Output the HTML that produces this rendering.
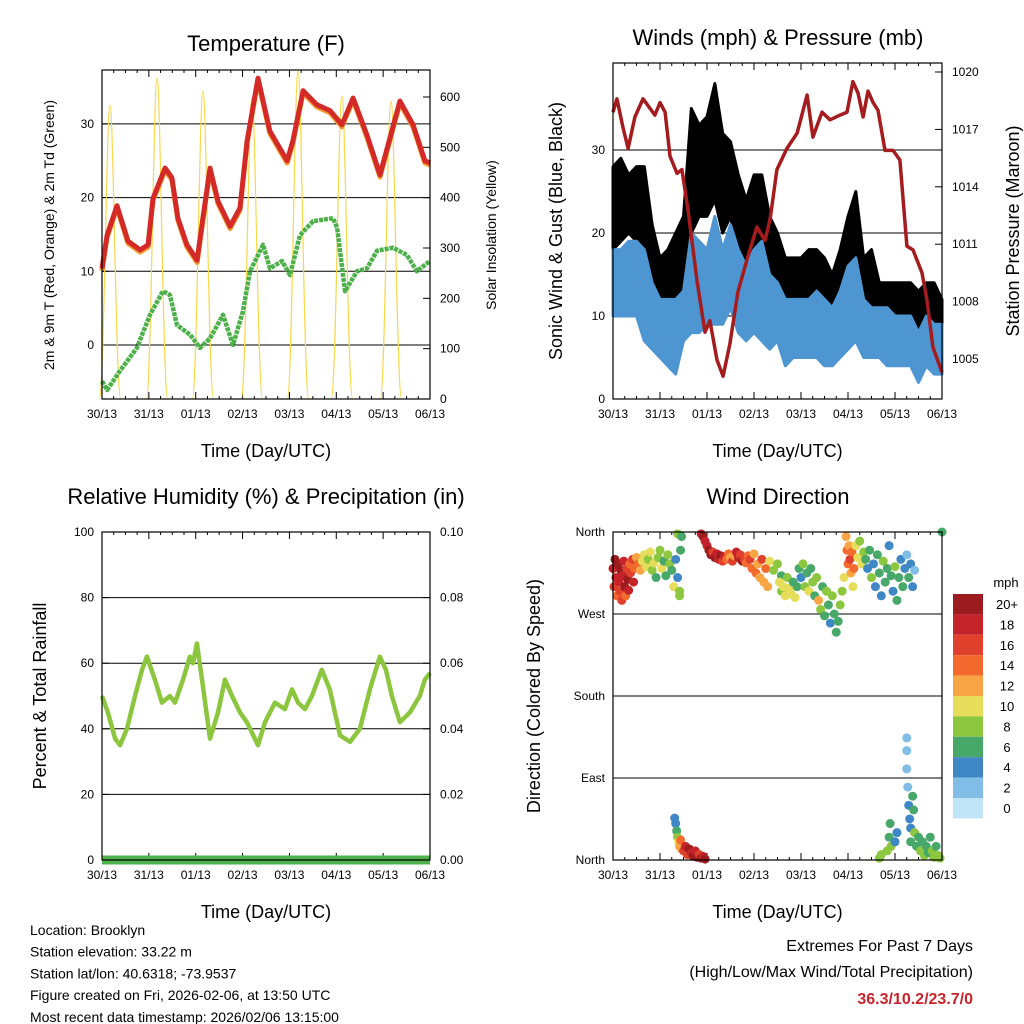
<!DOCTYPE html>
<html><head><meta charset="utf-8"><style>
body{margin:0;background:#fff;}
svg{display:block;font-family:"Liberation Sans",sans-serif;}
</style></head><body>
<svg id="c" width="1024" height="1024" xmlns="http://www.w3.org/2000/svg"></svg>
<script>
const dayLabels=["30/13","31/13","01/13","02/13","03/13","04/13","05/13","06/13"];
const tempH=[0,2.6,7.7,13.3,19.5,23.6,26.1,32.3,35.8,38.9,43.5,48.7,51.7,55.3,59.4,65.6,70.7,74.3,79.9,86,94.8,97.8,103,110,116.8,122.9,128.6,135.7,142.4,152.6,159.3,165.4,168];
const tempV=[10.4,14.9,18.9,14.1,12.9,13.6,19.9,24,22.7,17.2,13.6,11.5,17.2,24,19.5,16.1,18.6,27.7,36.2,29,25,27.7,34.5,32.6,31.8,29.9,33.5,28.5,23.1,33.1,29.9,25,24.7];
const dewH=[0,2.6,9.2,17.9,24.6,31.2,34.8,38.4,45.1,50.2,55.3,62,67.1,72.2,75.8,82.5,86,92.2,96.3,101.4,108.1,118.3,120.4,124.5,130.6,135.7,140.9,149.1,156.2,161.3,168];
const dewV=[-4.9,-6.1,-3.5,-0.4,4.1,7.3,6.8,2.7,1.4,-0.4,0.9,4.1,0,4.6,10,13.6,10.4,11.4,9.5,14.9,16.8,17.2,15.9,7.3,10,10.4,12.8,13.2,12.2,10,11.4];
const solarPeakH=[4.1,28.2,51.7,76.8,100.4,122.9,148];
const solarPeakV=[584,638,612,598,652,602,592];
const presH=[0,2,5.1,7.7,11.2,15.3,18.9,21.4,24,26.6,29.1,32.7,35.2,38.3,42.9,47,49.5,53.1,56.2,59.7,63.8,68.4,73.5,77.6,80.2,83.7,88.8,94,99.1,102.1,106.7,110.8,115.9,119.5,122.5,125.1,127.7,130.2,132.8,135.3,138.9,143,146.5,150.1,153.2,157.8,160.3,163.4,168];
const presV=[1017.9,1018.6,1017.1,1016,1017.65,1018.6,1018.1,1017.75,1018.4,1017.9,1015.6,1014.7,1014.9,1012.8,1009.1,1006.4,1007,1004.95,1004.1,1005.8,1008.5,1010.2,1011.9,1011.2,1012.3,1014.9,1016,1016.8,1018.8,1016.6,1017.9,1017.5,1017.75,1017.9,1019.5,1018.9,1017.65,1019,1018.4,1018,1015.9,1015.9,1015.4,1010.9,1010.7,1009.5,1008.1,1005.6,1004.3];
const windH=[0,4,8,12,16,20,24,28,32,36,40,44,48,52,56,60,64,68,72,76,80,84,88,92,96,100,104,108,112,116,120,124,128,132,136,140,144,148,152,156,160,164,168];
const windLo=[10,10,10,10,7,6,5,4,3,7,8,8,9,9,9,11,8,7,8,7,6,7,4,5,5,5,5,4,4,5,6,7,5,5,5,4,4,4,4,2,4,3,3];
const windHi=[18,18,19,19,18,14,12,12,12,13,20,19,18,22,18,21,18,16,18,19,15,14,12,12,12,12,13,12,11,13,16,17,12,11,11,11,10,10,10,8,10,9,9];
const gustLo=[18,19,20,19,16,12,10,9,10,10,20,22,22,24,20,22,17,14,17,16,13,12,9,10,9,10,10,10,7,9,12,15,10,9,7,8,7,8,8,5,7,7,6];
const gustHi=[28,29,27,28,28,21,17,18,20,22,35,33,34,38,32,31,27,24,27,27,22,20,17,17,17,18,18,17,15,18,22,25,17,18,14,14,14,14,14,13,14,14,12];
const rhH=[0,3,6.7,9.2,12.8,16.9,20.5,23,27.1,30.7,34.8,37.4,41.5,45,46.6,48.6,51.2,55.3,59.4,63,66.6,70.7,74.2,79.9,83.5,88.6,93.7,97.3,100.4,104,107.5,112.6,116.7,121.9,127,132.1,137.2,142.3,145.4,148.5,152.6,157.7,162.8,165.4,168];
const rhV=[50,45,37,35,40,50,58,62,55,48,50,48,55,62,60,66,55,37,45,55,50,45,42,35,42,48,46,52,48,46,50,58,52,38,36,40,52,62,58,50,42,45,50,55,57];
const precipH=[0,168];
const precipV=[0,0];
const dirPts=[[0,320,18],[0.5,300,16],[1,330,20],[1.5,310,18],[2,290,15],[2.5,325,20],[3,305,19],[3.5,295,17],[4,318,20],[4.5,285,16],[5,312,18],[5.5,328,19],[6,300,20],[6.5,290,14],[7,320,17],[7.5,308,20],[8,296,18],[8.5,325,15],[9,315,16],[10,330,17],[10.5,305,18],[11,320,14],[12,332,13],[13,325,15],[14,318,12],[15,328,11],
[16,335,10],[17,322,11],[18,330,9],[19,338,10],[20,318,8],[21,326,10],[22,310,7],[23,332,9],[24,340,8],[25,320,10],[26,328,7],[27,312,6],[28,335,9],[29,325,8],[30,318,7],[31,300,10],[32,330,5],[33,310,4],[34,295,8],[34.5,340,7],[33,358,8],[35,355,6],[34,290,9],
[31.5,46,4],[32,40,5],[32.5,32,6],[33,25,8],[33.5,20,10],[34,15,12],[34.5,22,14],[35,12,13],[36,10,16],[37,15,18],[38,6,17],[39,12,20],[40,8,18],[41,4,20],[42,10,19],[43,3,20],[44,6,17],[45,2,20],[46,4,19],[47,1,20],
[45,358,18],[46,355,20],[47,350,19],[48,345,18],[49,340,20],[50,335,20],[51,338,17],[52,332,20],[53,336,19],[54,330,18],[55,334,20],[56,328,16],[57,333,18],[58,330,14],[59,336,15],[60,332,12],[61,328,16],[62,334,13],[63,338,18],[64,332,19],[65,335,17],[66,328,20],[67,330,16],[68,326,15],[69,334,14],
[70,330,16],[71,320,14],[72,336,13],[73,315,15],[74,325,12],[75,310,13],[76,330,16],[77,305,12],[78,320,14],[79,300,13],[80,328,11],[82,318,8],[84,325,9],[86,312,7],
[85,305,10],[86,295,9],[87,300,11],[88,290,10],[89,310,8],[90,298,11],[91,292,10],[92,305,7],[93,288,10],[94,300,6],[95,320,7],[96,310,5],[97,325,8],[98,300,9],[99,315,6],[100,295,10],[101,320,7],[102,305,8],[103,290,6],[104,310,9],[105,285,12],[106,275,8],[107,300,6],[108,268,7],[109,295,9],[110,280,6],[111,260,5],[112,290,8],[113,270,6],[114,250,6],[115,262,7],[116,280,9],[117,295,8],[118,310,10],
[119,355,12],[119.5,340,14],[120,325,15],[120.5,345,13],[121,330,16],[121.5,315,12],[122,338,14],[122.5,300,10],[123,320,15],[124,345,11],[125,332,10],[126,350,9],[127,325,10],[128,338,8],
[129,330,6],[130,320,5],[131,340,7],[132,310,8],[133,325,5],[134,300,4],[135,335,6],[136,315,7],[137,290,4],[138,328,8],[139,305,6],[140,320,7],[141,345,4],[142,312,6],[143,295,5],[144,322,8],[145,285,6],[146,310,7],[147,330,4],[148,300,6],[149,320,5],[150,335,3],[151,310,6],[152,325,4],[153,300,5],[154,318,3],
[136,2,8],[137,6,8],[140,10,8],[141,25,6],[141.5,40,6],[142,15,8],[144,20,5],[145,30,4],[150,134,2],[150,120,2],[150,100,2],[150.5,80,3],[151,60,4],[151.5,45,4],[152,35,5],[152,20,7],[153,70,6],[153.5,55,6],[154,30,8],[155,15,7],[156,25,6],[157,10,8],[158,20,7],[159,5,8],[160,15,6],[161,8,7],[162,25,6],[163,10,8],[164,3,8],[165,15,7],[166,5,9],[167,2,8],[168,360,6]];
const cbLabels=["20+","18","16","14","12","10","8","6","4","2","0"];
const cbColors=["#9b1b1e","#c4232a","#df412c","#f26a2d","#f8a645","#e6dd5a","#8dc63f","#48a86a","#3f88c5","#80bee7","#bfe5f7"];

const svg=document.getElementById('c');const NS="http://www.w3.org/2000/svg";
function el(tag,attrs,parent,text){const e=document.createElementNS(NS,tag);for(const k in attrs)e.setAttribute(k,attrs[k]);if(text!==undefined)e.textContent=text;(parent||svg).appendChild(e);return e;}
function lin(d0,d1,r0,r1){return v=>r0+(v-d0)/(d1-d0)*(r1-r0);}
function txt(x,y,s,size,anchor,name,parent,rot,extra){const a={x:x,y:y,'font-size':size,'text-anchor':anchor||'middle',fill:'#000'};if(rot)a.transform=`rotate(-90 ${x} ${y})`;if(extra)Object.assign(a,extra);const t=el('text',a,parent,s);return t;}
function pathFrom(hs,vs,xs,ys){return hs.map((h,i)=>(i?'L':'M')+xs(h).toFixed(1)+' '+ys(vs[i]).toFixed(1)).join(' ');}

function frame(p,name){
 const g=el('g',{});
 const xs=lin(0,168,p.x0,p.x1);
 dayLabels.forEach((d,i)=>{const x=xs(i*24);
  el('line',{x1:x,x2:x,y1:p.y1,y2:p.y1-7,stroke:'#000','stroke-width':1},g);
  el('line',{x1:x,x2:x,y1:p.y0,y2:p.y0+7,stroke:'#000','stroke-width':1},g);
  txt(x,p.y1+19,d,12,'middle','x-tick-label',g);
  for(let k=1;k<4;k++){const xm=xs(i*24+k*6);if(i<7){el('line',{x1:xm,x2:xm,y1:p.y1,y2:p.y1-3,stroke:'#000'},g);el('line',{x1:xm,x2:xm,y1:p.y0,y2:p.y0+3,stroke:'#000'},g);}}
 });
 txt((p.x0+p.x1)/2,p.y1+58,'Time (Day/UTC)',18,'middle','x-axis-title',g);
 return {g,xs};
}
function box(p,g){const r=el('rect',{x:p.x0,y:p.y0,width:p.x1-p.x0,height:p.y1-p.y0,fill:'none',stroke:'#000','stroke-width':1.2},g);}
function yAxis(p,g,ys,ticks,labels,side,grid){
 ticks.forEach((t,i)=>{const y=ys(t);
  if(side==='left'){el('line',{x1:p.x0,x2:p.x0+7,y1:y,y2:y,stroke:'#000'},g);txt(p.x0-8,y+4,labels[i],12,'end','y-tick-label',g);}
  else{el('line',{x1:p.x1,x2:p.x1-7,y1:y,y2:y,stroke:'#000'},g);txt(p.x1+10,y+4,labels[i],12,'start','y2-tick-label',g);}
  if(grid&&y>p.y0+1&&y<p.y1-1){const l=el('line',{x1:p.x0,x2:p.x1,y1:y,y2:y,stroke:'#000','stroke-width':1},g);}
 });
}

// Panel 1
(function(){
 const p={x0:102,x1:430,y0:70,y1:399};
 const {g,xs}=frame(p,'temperature-panel');
 const ys=lin(0,10,345,271.3), ysol=lin(0,600,399,97);
 txt(266,51,'Temperature (F)',22,'middle','temperature-title',g);
 yAxis(p,g,ys,[0,10,20,30],['0','10','20','30'],'left',true);
 yAxis(p,g,ysol,[0,100,200,300,400,500,600],['0','100','200','300','400','500','600'],'right',false);
 txt(54,235,'2m & 9m T (Red, Orange) & 2m Td (Green)',14,'middle','temperature-y-axis-title',g,true);
 txt(496,235,'Solar Insolation (Yellow)',14,'middle','solar-y-axis-title',g,true);
 let d='';solarPeakH.forEach((h,i)=>{const y0=ysol(0),yp=ysol(solarPeakV[i]);d+=`M${xs(h-5.5)} ${y0} C${xs(h-3)} ${y0} ${xs(h-1.8)} ${yp} ${xs(h)} ${yp} C${xs(h+1.8)} ${yp} ${xs(h+3)} ${y0} ${xs(h+5.5)} ${y0} `;});
 const s=el('path',{d:d,fill:'none',stroke:'#f7d84a','stroke-width':1.2},g);
 const o=el('path',{d:pathFrom(tempH,tempV.map(v=>v-0.3),xs,ys),fill:'none',stroke:'#f39a32','stroke-width':5,'stroke-linejoin':'round'},g);
 const r=el('path',{d:pathFrom(tempH,tempV,xs,ys),fill:'none',stroke:'#d42a27','stroke-width':5,'stroke-linejoin':'round'},g);
 const gr=el('path',{d:pathFrom(dewH,dewV,xs,ys),fill:'none',stroke:'#4db04a','stroke-width':4.5,'stroke-dasharray':'4 1','stroke-linejoin':'round'},g);
 box(p,g);
})();

// Panel 2
(function(){
 const p={x0:613,x1:942,y0:63,y1:399};
 const {g,xs}=frame(p,'winds-panel');
 const ys=lin(0,30,399,150), yp=lin(1005,1020,359,72);
 txt(778,45,'Winds (mph) & Pressure (mb)',22,'middle','winds-title',g);
 yAxis(p,g,ys,[0,10,20,30],['0','10','20','30'],'left',true);
 yAxis(p,g,yp,[1005,1008,1011,1014,1017,1020],['1005','1008','1011','1014','1017','1020'],'right',false);
 txt(562,231,'Sonic Wind & Gust (Blue, Black)',18,'middle','wind-y-axis-title',g,true);
 txt(1019,231,'Station Pressure (Maroon)',18,'middle','pressure-y-axis-title',g,true);
 function band(lo,hi,color,name){const d=windH.map((h,i)=>(i?'L':'M')+xs(h)+' '+ys(hi[i])).join(' ')+' '+windH.slice().reverse().map((h,j)=>{const i=windH.length-1-j;return 'L'+xs(h)+' '+ys(lo[i]);}).join(' ')+'Z';
  const b=el('path',{d:d,fill:color,stroke:color,'stroke-width':3,'stroke-linejoin':'round'},g);}
 band(gustLo,gustHi,'#000','gust-band');
 band(windLo,windHi,'#4e96d2','wind-band');
 const pr=el('path',{d:pathFrom(presH,presV,xs,yp),fill:'none',stroke:'#a51c1f','stroke-width':3.5,'stroke-linejoin':'round'},g);
 box(p,g);
})();

// Panel 3
(function(){
 const p={x0:102,x1:430,y0:532,y1:860};
 const {g,xs}=frame(p,'humidity-panel');
 const ys=lin(0,100,860,532), ypr=lin(0,0.1,860,532);
 txt(266,504,'Relative Humidity (%) & Precipitation (in)',22,'middle','humidity-title',g);
 yAxis(p,g,ys,[0,20,40,60,80,100],['0','20','40','60','80','100'],'left',true);
 yAxis(p,g,ypr,[0,0.02,0.04,0.06,0.08,0.1],['0.00','0.02','0.04','0.06','0.08','0.10'],'right',false);
 txt(46,696,'Percent & Total Rainfall',18,'middle','humidity-y-axis-title',g,true);
 const rh=el('path',{d:pathFrom(rhH,rhV,xs,ys),fill:'none',stroke:'#8cc63f','stroke-width':4.5,'stroke-linejoin':'round'},g);
 const pc=el('path',{d:pathFrom(precipH,precipV,xs,ypr),fill:'none',stroke:'#4db04a','stroke-width':9},g);
 box(p,g);
})();

// Panel 4
(function(){
 const p={x0:613,x1:942,y0:532,y1:860};
 const {g,xs}=frame(p,'wind-direction-panel');
 const ys=lin(0,360,860,532);
 txt(778,504,'Wind Direction',22,'middle','wind-direction-title',g);
 yAxis(p,g,ys,[0,90,180,270,360],['North','East','South','West','North'],'left',true);
 txt(540,696,'Direction (Colored By Speed)',18,'middle','direction-y-axis-title',g,true);
 dirPts.forEach(pt=>{const idx=Math.min(10,Math.floor(pt[2]/2));
  const c=el('circle',{cx:xs(pt[0]),cy:ys(pt[1]),r:4.5,fill:cbColors[10-idx]},g);
  
  });
 box(p,g);
 const cb=el('g',{},svg);
 txt(1006,587,'mph',13,'middle','colorbar-title',cb);
 cbColors.forEach((c,i)=>{const r=el('rect',{x:953,y:594+i*20.4,width:30,height:20.4,fill:c},cb);
  txt(1007,609+i*20.4,cbLabels[i],13,'middle','colorbar-label',cb);});
})();

const info=["Location: Brooklyn","Station elevation: 33.22 m","Station lat/lon: 40.6318; -73.9537","Figure created on Fri, 2026-02-06, at 13:50 UTC","Most recent data timestamp: 2026/02/06 13:15:00"];
info.forEach((s,i)=>txt(30,935+i*21.7,s,14,'start','station-info-line'));
txt(973,951,'Extremes For Past 7 Days',16,'end','extremes-title');
txt(973,977,'(High/Low/Max Wind/Total Precipitation)',16,'end','extremes-subtitle');
txt(973,1004,'36.3/10.2/23.7/0',16,'end','extremes-values',null,false,{fill:'#c8242b','font-weight':'bold'});
</script>
</body></html>
